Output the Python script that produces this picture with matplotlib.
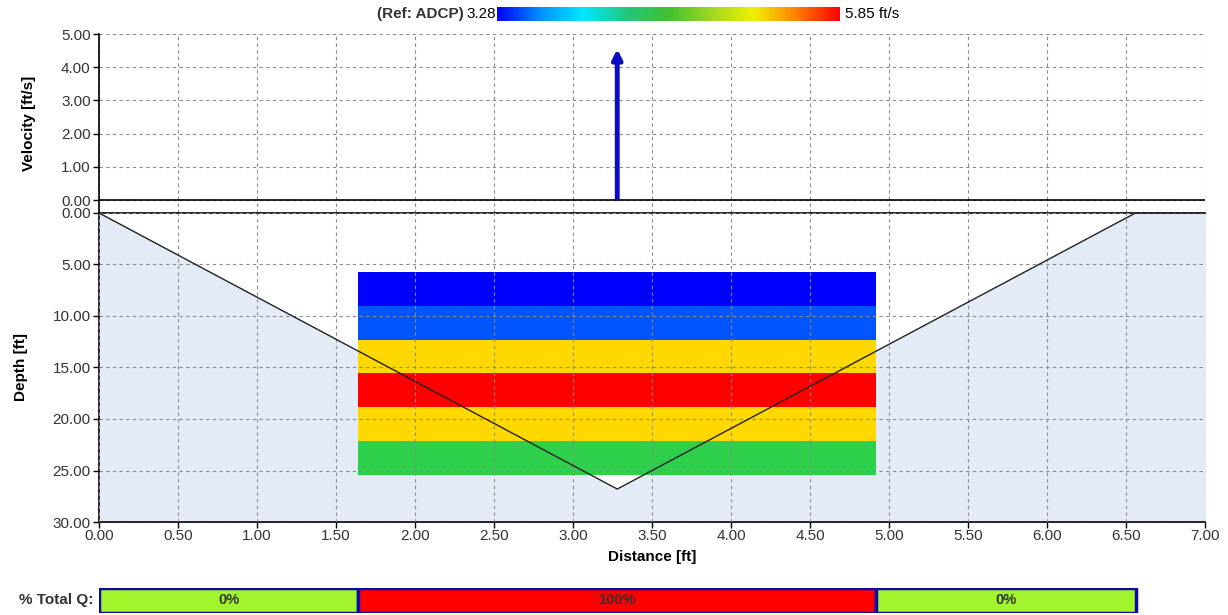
import matplotlib.pyplot as plt
import numpy as np
from matplotlib.colors import LinearSegmentedColormap
from matplotlib.patches import Rectangle
from matplotlib.ticker import FormatStrFormatter

plt.rcParams['font.family'] = ['Liberation Sans', 'DejaVu Sans']

# Data
bed_dist = [0.0, 3.28, 6.56, 7.0]     # bed profile, distance [ft]
bed_depth = [0.0, 26.8, 0.0, 0.0]     # bed profile, depth [ft]
vert_dist = 3.28                      # vertical location
vert_velocity = 4.55                  # mean velocity [ft/s]
cell_left = 1.64
cell_right = 4.92
cell_tops = [5.74, 9.02, 12.30, 15.58, 18.86, 22.14]
cell_size = 3.28
cell_colors = ['#0000ff', '#0055ff', '#ffd800', '#ff0000', '#ffd800', '#2ecf4a']
q_edges = [0.0, 1.64, 4.92, 6.56]
q_pct = [0, 100, 0]
q_colors = ['#a2f52c', '#ff0000', '#a2f52c']
vel_min, vel_max = 3.28, 5.85

GRID = dict(color='#8a8a8a', linestyle=(0, (3, 3)), linewidth=0.8)
LABEL = dict(fontweight='bold', fontsize=11)
TICKSIZE = 11

fig = plt.figure(figsize=(12.28, 6.15), dpi=100)

# Velocity panel
ax_v = fig.add_axes([0.0806, 0.6537, 0.9007, 0.2910])
ax_v.set_xlim(0, 7)
ax_v.set_ylim(-0.39, 5.0)
ax_v.set_yticks(np.arange(0, 5.01, 1.0))
ax_v.yaxis.set_major_formatter(FormatStrFormatter('%.2f'))
ax_v.set_xticks(np.arange(0, 7.01, 0.5))
ax_v.tick_params(axis='x', length=0, labelbottom=False)
ax_v.tick_params(axis='y', length=4, width=1, labelsize=TICKSIZE, labelcolor='#333333', pad=2)
for s in ['top', 'right', 'bottom']:
    ax_v.spines[s].set_visible(False)
ax_v.spines['left'].set_linewidth(1.2)
ax_v.grid(True, **GRID)
ax_v.axhline(0, color='black', lw=1.2)
ax_v.annotate('', xy=(vert_dist, vert_velocity), xytext=(vert_dist, 0.05),
              arrowprops=dict(arrowstyle='-|>', lw=3.5, color='#0b0bc4', mutation_scale=14,
                              shrinkA=0, shrinkB=0))
ax_v.set_ylabel('Velocity [ft/s]', labelpad=18, **LABEL)

# Depth panel
ax_d = fig.add_axes([0.0806, 0.1512, 0.9007, 0.5025])
ax_d.set_xlim(0, 7)
ax_d.set_ylim(30, 0)
ax_d.fill_between(bed_dist, bed_depth, 30, color='#e3ecf6', zorder=0)
for top, c in zip(cell_tops, cell_colors):
    ax_d.add_patch(Rectangle((cell_left, top), cell_right - cell_left, cell_size,
                             facecolor=c, edgecolor='none', zorder=2))
ax_d.plot(bed_dist, bed_depth, color='#222222', lw=1.0, zorder=3)
ax_d.set_xticks(np.arange(0, 7.01, 0.5))
ax_d.set_yticks(np.arange(0, 30.01, 5))
ax_d.xaxis.set_major_formatter(FormatStrFormatter('%.2f'))
ax_d.yaxis.set_major_formatter(FormatStrFormatter('%.2f'))
ax_d.tick_params(length=4, width=1, labelsize=TICKSIZE, labelcolor='#333333')
ax_d.tick_params(axis='x', pad=1)
ax_d.tick_params(axis='y', pad=2)
ax_d.spines['right'].set_visible(False)
for s in ['left', 'bottom', 'top']:
    ax_d.spines[s].set_linewidth(1.2)
ax_d.grid(True, **GRID)
ax_d.set_axisbelow(False)
for gl in ax_d.get_xgridlines() + ax_d.get_ygridlines():
    gl.set_zorder(1)
ax_d.set_xlabel('Distance [ft]', labelpad=5, **LABEL)
ax_d.set_ylabel('Depth [ft]', labelpad=18, **LABEL)

# Colour scale on top
cmap = LinearSegmentedColormap.from_list(
    'vel', ['#0000ff', '#0090ff', '#00e8ff', '#20c880', '#40c030', '#a0d820', '#f0f000', '#ff8000', '#ff0000'])
ax_c = fig.add_axes([0.4047, 0.9659, 0.2793, 0.0227])
ax_c.imshow(np.linspace(vel_min, vel_max, 256)[None, :], aspect='auto', cmap=cmap,
            extent=[vel_min, vel_max, 0, 1])
ax_c.set_axis_off()
fig.text(0.4040, 0.977, str(vel_min), ha='right', va='center', fontsize=11)
fig.text(0.3775, 0.977, '(Ref: ADCP)', ha='right', va='center', fontsize=11, fontweight='bold',
         color='#333333')
fig.text(0.6880, 0.977, '%.2f ft/s' % vel_max, ha='left', va='center', fontsize=11)

# % Total Q bar
ax_q = fig.add_axes([0.0806, 0.0033, 0.9007, 0.0406])
ax_q.set_xlim(0, 7)
ax_q.set_ylim(0, 1)
for i in range(len(q_pct)):
    ax_q.add_patch(Rectangle((q_edges[i], 0), q_edges[i + 1] - q_edges[i], 1,
                             facecolor=q_colors[i], edgecolor='#0a0aa8', lw=2.5))
    ax_q.text((q_edges[i] + q_edges[i + 1]) / 2, 0.5, '%d%%' % q_pct[i],
              ha='center', va='center', fontsize=10.5, fontweight='bold', color='#333333')
ax_q.set_axis_off()
fig.text(0.076, 0.024, '% Total Q:', ha='right', va='center', fontsize=11, fontweight='bold',
         color='#333333')

fig.savefig('out.png', dpi=100)
